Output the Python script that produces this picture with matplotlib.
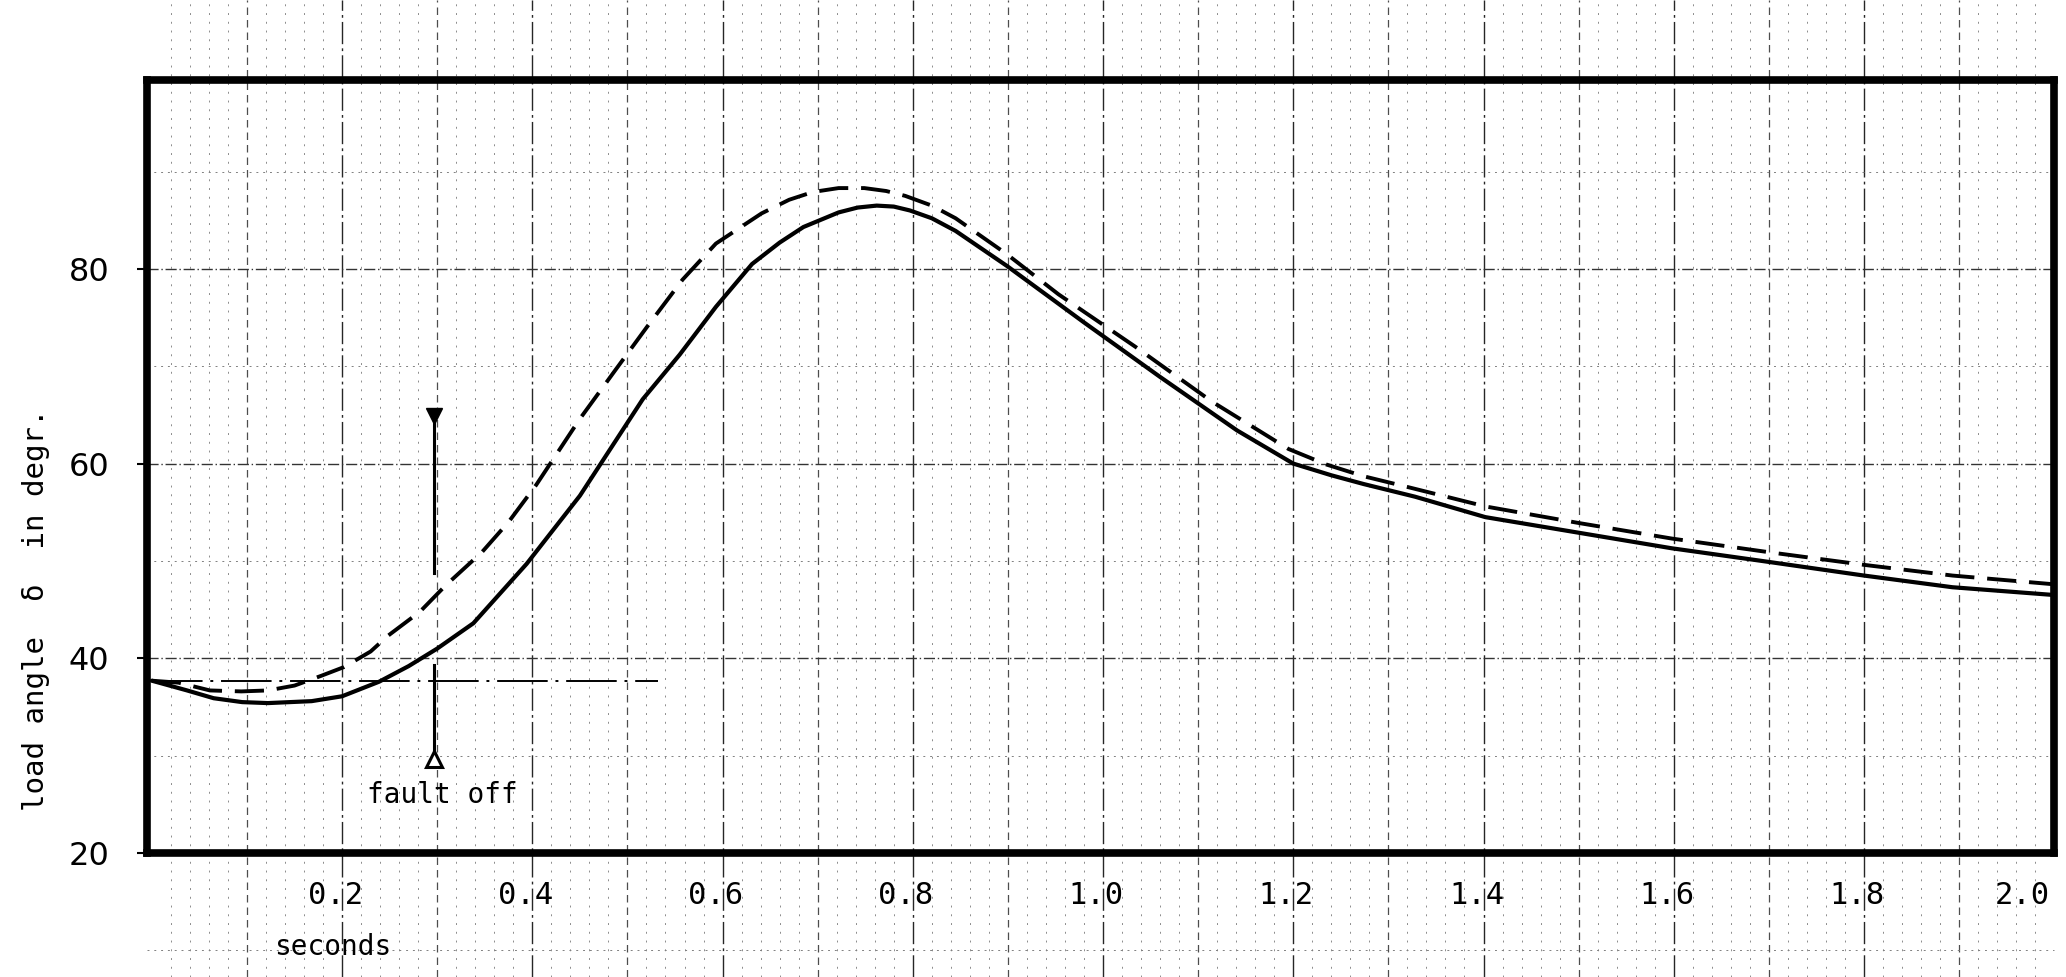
import numpy as np
import matplotlib
matplotlib.use("Agg")
import matplotlib.pyplot as plt
from matplotlib.transforms import blended_transform_factory, ScaledTranslation

# load angle curves (time in s, angle in degrees)
t_solid = [0.0, 0.037, 0.065, 0.095, 0.122, 0.168, 0.2, 0.239, 0.27, 0.3, 0.338,
           0.394, 0.45, 0.484, 0.516, 0.555, 0.593, 0.631, 0.66, 0.685, 0.722,
           0.742, 0.762, 0.78, 0.797, 0.82, 0.845, 0.899, 0.98, 1.06, 1.141,
           1.2, 1.24, 1.274, 1.328, 1.402, 1.5, 1.598, 1.7, 1.8, 1.893, 2.0]
d_solid = [37.7, 36.7, 35.9, 35.5, 35.4, 35.6, 36.1, 37.6, 39.2, 41.0, 43.6,
           49.7, 56.7, 61.8, 66.6, 71.2, 76.1, 80.5, 82.7, 84.3, 85.8,
           86.3, 86.5, 86.4, 86.0, 85.2, 83.9, 80.3, 74.5, 68.9, 63.4,
           60.0, 58.8, 57.9, 56.6, 54.5, 52.9, 51.3, 49.9, 48.5, 47.3, 46.5]

t_dash = [0.0, 0.028, 0.061, 0.094, 0.122, 0.15, 0.178, 0.202, 0.23, 0.248, 0.282,
          0.309, 0.347, 0.375, 0.404, 0.427, 0.45, 0.488, 0.521, 0.558, 0.593,
          0.641, 0.67, 0.695, 0.722, 0.749, 0.772, 0.792, 0.82, 0.845, 0.899,
          0.953, 1.034, 1.114, 1.195, 1.235, 1.274, 1.32, 1.402, 1.5, 1.598,
          1.7, 1.8, 1.893, 2.0]
d_dash = [37.7, 37.5, 36.7, 36.6, 36.7, 37.2, 38.2, 39.1, 40.7, 42.3, 44.8,
          47.5, 50.9, 54.0, 57.8, 61.2, 64.6, 69.7, 74.1, 78.9, 82.6,
          85.7, 87.1, 87.9, 88.3, 88.3, 88.0, 87.5, 86.5, 85.2, 81.5,
          77.4, 72.0, 66.4, 61.5, 59.9, 58.7, 57.6, 55.6, 53.9, 52.3,
          50.9, 49.6, 48.5, 47.6]

ref_level = 37.7
ref_end = 0.532

fault_t = 0.297
fault_upper = [64.9, 48.8]
fault_lower = [39.3, 29.7]

x_ticks = [0.2, 0.4, 0.6, 0.8, 1.0, 1.2, 1.4, 1.6, 1.8, 2.0]
x_labels = ["0.2", "0.4", "0.6", "0.8", "1.0", "1.2", "1.4", "1.6", "1.8", "2.0"]
y_ticks = [20, 40, 60, 80]
y_labels = ["20", "40", "60", "80"]

mono = "DejaVu Sans Mono"


def main():
    fig = plt.figure(figsize=(20.66, 9.77), dpi=100)
    ax = fig.add_axes([0.0712, 0.1269, 0.9231, 0.7912])
    ax.set_xlim(-0.005, 2.0)
    ax.set_ylim(20, 99.4)

    # graph paper: vertical lines run over the whole sheet
    vtrans = blended_transform_factory(ax.transData, fig.transFigure)
    for x in np.arange(0.02, 2.0, 0.02):
        k = int(round(x / 0.02))
        if k % 10 == 0:
            ax.vlines(x, 0, 1, transform=vtrans, clip_on=False, color="0.15",
                      lw=1.0, linestyles=[(0, (16, 3, 2, 3))], zorder=1)
        elif k % 5 == 0:
            ax.vlines(x, 0, 1, transform=vtrans, clip_on=False, color="0.3",
                      lw=0.9, linestyles=[(0, (6, 4))], zorder=1)
        else:
            ax.vlines(x, 0, 1, transform=vtrans, clip_on=False, color="0.55",
                      lw=0.7, linestyles=[(0, (2, 7))], zorder=1)
    for y in range(30, 100, 10):
        strong = y in (40, 60, 80)
        ax.axhline(y, color="0.2" if strong else "0.5", lw=1.0 if strong else 0.7,
                   linestyle=(0, (8, 2, 1, 2)) if strong else (0, (2, 5)), zorder=1)
    ax.plot([-0.005, 2.0], [10, 10], color="0.5", lw=0.7, linestyle=(0, (2, 5)),
            clip_on=False, zorder=1)

    # curves
    ax.plot(t_solid, d_solid, color="black", lw=3.0, solid_joinstyle="round",
            solid_capstyle="round", zorder=4)
    ax.plot(t_dash, d_dash, color="black", lw=2.8, linestyle=(0, (7.5, 3.3)),
            dash_joinstyle="round", zorder=4)
    ax.plot([0, ref_end], [ref_level, ref_level], color="black", lw=1.4,
            linestyle=(0, (26, 4, 1.5, 4)), zorder=3)

    # fault clearing marker
    ax.plot([fault_t, fault_t], fault_upper, color="black", lw=2.2, zorder=4)
    ax.plot([fault_t, fault_t], fault_lower, color="black", lw=2.2, zorder=4)
    ax.plot([fault_t], [fault_upper[0]], marker="v", ms=12, color="black", zorder=5)
    ax.plot([fault_t], [fault_lower[1]], marker="^", ms=12, mfc="white",
            mec="black", mew=2.2, zorder=5)
    ax.text(0.305, 26.0, "fault off", family=mono, fontsize=20, ha="center",
            va="center", zorder=6)

    # frame
    for side in ax.spines.values():
        side.set_linewidth(5.5)
        side.set_color("black")
        side.set_zorder(6)

    ax.set_xticks(x_ticks)
    ax.set_xticklabels(x_labels, family=mono, fontsize=22)
    ax.tick_params(axis="x", length=0, pad=20)
    labs = ax.get_xticklabels()
    for lab in labs[:-1]:
        lab.set_transform(lab.get_transform()
                          + ScaledTranslation(-5 / 72, 0, fig.dpi_scale_trans))
    labs[-1].set_horizontalalignment("right")
    labs[-1].set_transform(labs[-1].get_transform()
                           + ScaledTranslation(-3 / 72, 0, fig.dpi_scale_trans))

    ax.set_yticks(y_ticks)
    ax.set_yticklabels(y_labels, family=["Liberation Sans Narrow", "DejaVu Sans"],
                       fontsize=23)
    ax.tick_params(axis="y", length=7, width=1.5, pad=20)

    ax.text(0.19, 10.3, "seconds", family=mono, fontsize=20, ha="center", va="center")
    fig.text(0.0174, 0.3756, "load angle  \u03b4  in degr.", family=mono, fontsize=21,
             rotation=90, ha="center", va="center")

    fig.savefig("out.png", dpi=100, facecolor="white")


if __name__ == '__main__':
    main()
